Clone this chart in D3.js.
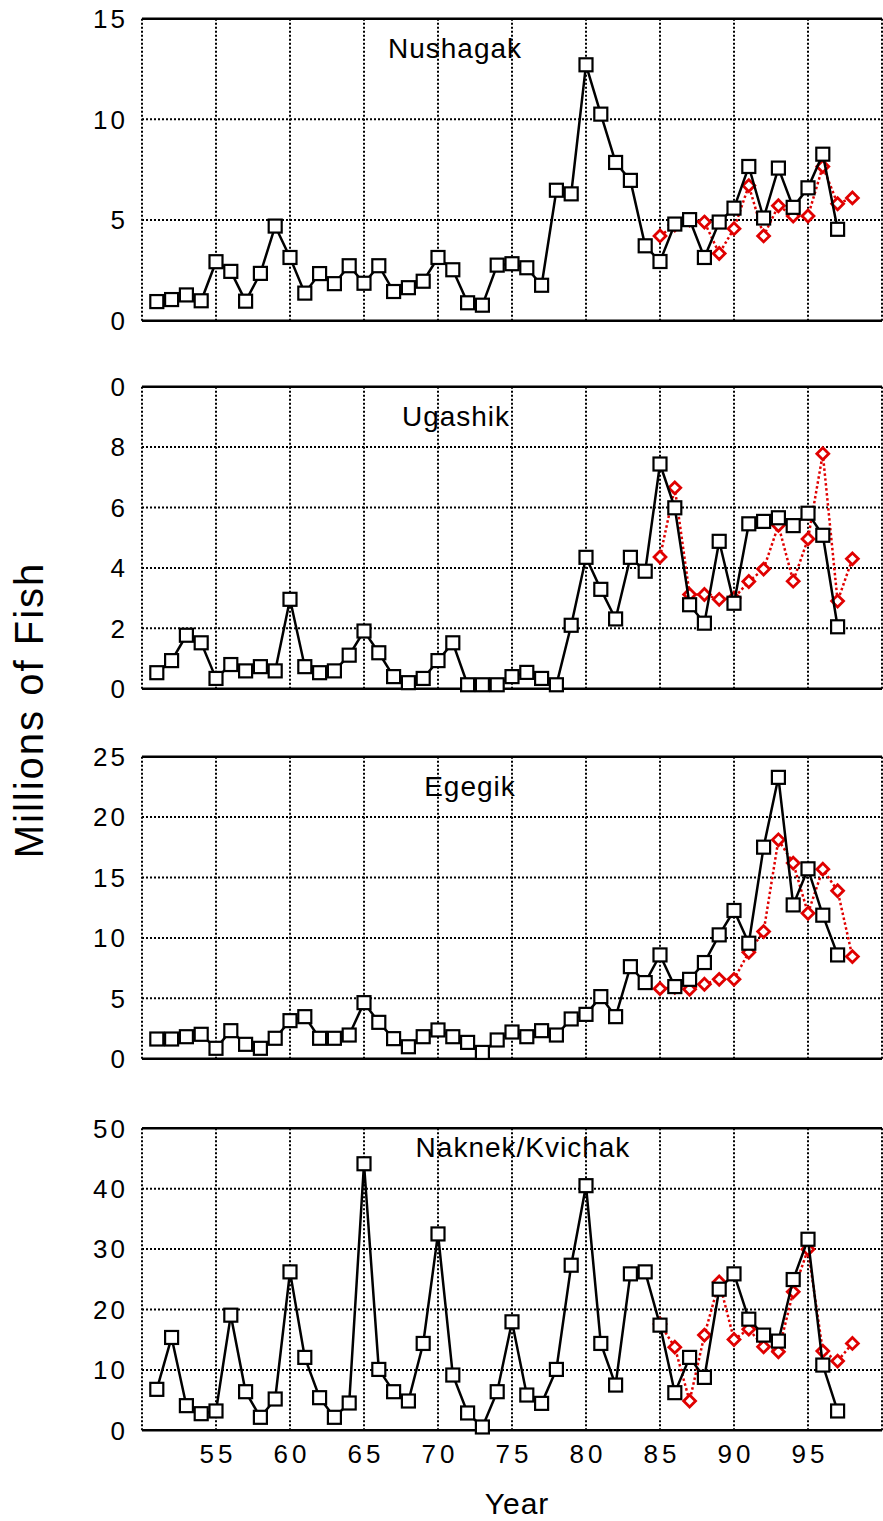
<!DOCTYPE html>
<html>
<head>
<meta charset="utf-8">
<script src="https://cdn.jsdelivr.net/npm/d3@7"></script>
<style>
body { margin: 0; background: #fff; }
text { font-family: "Liberation Sans", Arial, sans-serif; fill: #000; }
</style>
</head>
<body>
<div id="chart"></div>
<script>

// escapement (black squares) 1951-1997, forecast (red diamonds) 1985-1998
let escYears = [51,52,53,54,55,56,57,58,59,60,61,62,63,64,65,66,67,68,69,70,71,72,73,74,75,76,77,78,79,80,81,82,83,84,85,86,87,88,89,90,91,92,93,94,95,96,97];
let fcstYears = [85,86,87,88,89,90,91,92,93,94,95,96,97,98];
let xTicks = [55,60,65,70,75,80,85,90,95];

let nushagakEsc = [0.95,1.05,1.28,0.99,2.93,2.45,0.97,2.35,4.70,3.14,1.37,2.34,1.84,2.73,1.86,2.73,1.45,1.64,1.96,3.14,2.53,0.89,0.77,2.76,2.83,2.63,1.76,6.48,6.30,12.71,10.26,7.86,6.97,3.72,2.94,4.80,5.02,3.14,4.90,5.59,7.66,5.10,7.58,5.63,6.60,8.27,4.54];
let nushagakFcst = [4.21,4.75,5.0,4.90,3.34,4.57,6.71,4.21,5.71,5.2,5.20,7.66,5.81,6.10];
let nushagakTicks = [0,5,10,15];
let nushagakLabels = ["0","5","10","15"];

let ugashikEsc = [0.53,0.93,1.77,1.52,0.34,0.80,0.59,0.73,0.59,2.96,0.73,0.53,0.59,1.11,1.91,1.19,0.40,0.20,0.34,0.93,1.52,0.13,0.13,0.13,0.40,0.54,0.34,0.13,2.10,4.35,3.29,2.31,4.35,3.89,7.44,5.99,2.78,2.17,4.88,2.83,5.46,5.54,5.66,5.40,5.81,5.08,2.05];
let ugashikFcst = [4.36,6.65,3.12,3.12,2.96,3.0,3.55,3.96,5.41,3.56,4.96,7.78,2.90,4.30];
let ugashikTicks = [0,2,4,6,8,10];
let ugashikLabels = ["0","2","4","6","8","0"];

let egegikEsc = [1.63,1.63,1.82,2.02,0.86,2.32,1.19,0.86,1.69,3.15,3.48,1.69,1.69,1.96,4.64,3.01,1.66,0.99,1.82,2.38,1.82,1.35,0.52,1.55,2.21,1.82,2.32,1.96,3.29,3.67,5.14,3.48,7.62,6.30,8.59,5.97,6.57,7.96,10.25,12.27,9.56,17.51,23.29,12.73,15.72,11.88,8.59];
let egegikFcst = [5.80,5.9,5.75,6.16,6.57,6.57,8.81,10.52,18.12,16.19,12.04,15.69,13.90,8.45];
let egegikTicks = [0,5,10,15,20,25];
let egegikLabels = ["0","5","10","15","20","25"];

let naknekEsc = [6.78,15.37,4.08,2.75,3.20,19.06,6.39,2.15,5.18,26.23,12.07,5.40,2.15,4.52,44.13,10.08,6.39,4.85,14.38,32.51,9.15,2.87,0.55,6.39,17.96,5.84,4.46,10.08,27.33,40.50,14.38,7.49,25.90,26.23,17.41,6.23,12.07,8.76,23.36,25.90,18.40,15.76,14.77,24.96,31.63,10.80,3.20];
let naknekFcst = [17.6,13.77,4.85,15.76,24.57,15.04,16.75,13.83,13.00,22.92,29.97,13.11,11.46,14.38];
let naknekTicks = [0,10,20,30,40,50];
let naknekLabels = ["0","10","20","30","40","50"];

let svgWidth = 883;
let svgHeight = 1521;
let margin = { left: 142, right: 1 };
let width = 740;
let height = 302;

let panels = [
    { name: "Nushagak", top: 18.7, titleX: 455, titleDy: 39, esc: nushagakEsc, fcst: nushagakFcst, ticks: nushagakTicks, labels: nushagakLabels },
    { name: "Ugashik", top: 386.7, titleX: 456, titleDy: 39, esc: ugashikEsc, fcst: ugashikFcst, ticks: ugashikTicks, labels: ugashikLabels },
    { name: "Egegik", top: 756.7, titleX: 470, titleDy: 39.6, esc: egegikEsc, fcst: egegikFcst, ticks: egegikTicks, labels: egegikLabels },
    { name: "Naknek/Kvichak", top: 1128.3, titleX: 523, titleDy: 28.7, esc: naknekEsc, fcst: naknekFcst, ticks: naknekTicks, labels: naknekLabels }
];

let svg = d3.select("#chart")
    .append("svg")
    .attr("width", svgWidth)
    .attr("height", svgHeight);

let xScale = d3.scaleLinear()
    .domain([50, 100])
    .range([0, width]);

let diamond = d3.symbol().type(d3.symbolDiamond2).size(90);

panels.forEach(function(p) {
    let yScale = d3.scaleLinear()
        .domain([0, d3.max(p.ticks)])
        .range([height, 0]);

    let g = svg.append("g")
        .attr("transform", `translate(${margin.left}, ${p.top})`);

    // grid
    g.append("g")
        .selectAll("line")
        .data(xTicks.concat([50, 100]))
        .enter()
        .append("line")
        .attr("x1", d => xScale(d))
        .attr("x2", d => xScale(d))
        .attr("y1", 0)
        .attr("y2", height)
        .attr("stroke", "#000")
        .attr("stroke-width", 2)
        .attr("stroke-dasharray", "2,2");

    g.append("g")
        .selectAll("line")
        .data(p.ticks.slice(1, -1))
        .enter()
        .append("line")
        .attr("x1", 0)
        .attr("x2", width)
        .attr("y1", d => yScale(d))
        .attr("y2", d => yScale(d))
        .attr("stroke", "#000")
        .attr("stroke-width", 2)
        .attr("stroke-dasharray", "2,2");

    // top and bottom frame
    g.append("line")
        .attr("x1", 0).attr("x2", width)
        .attr("y1", 0).attr("y2", 0)
        .attr("stroke", "#000")
        .attr("stroke-width", 2.5);
    g.append("line")
        .attr("x1", 0).attr("x2", width)
        .attr("y1", height).attr("y2", height)
        .attr("stroke", "#000")
        .attr("stroke-width", 2.5);

    // y tick labels
    g.append("g")
        .selectAll("text")
        .data(p.ticks)
        .enter()
        .append("text")
        .attr("x", -14)
        .attr("y", d => yScale(d))
        .attr("dy", "0.36em")
        .attr("text-anchor", "end")
        .attr("font-size", "26px")
        .attr("letter-spacing", "3px")
        .text((d, i) => p.labels[i]);

    // title
    g.append("text")
        .attr("x", p.titleX - margin.left)
        .attr("y", p.titleDy)
        .attr("text-anchor", "middle")
        .attr("font-size", "28px")
        .attr("letter-spacing", "1px")
        .text(p.name);

    // forecast (red, dotted)
    let fcstData = fcstYears.map((yr, i) => ({ x: yr, y: p.fcst[i] }));
    let escData = escYears.map((yr, i) => ({ x: yr, y: p.esc[i] }));

    let line = d3.line()
        .x(d => xScale(d.x))
        .y(d => yScale(d.y));

    g.append("path")
        .datum(fcstData)
        .attr("d", line)
        .attr("fill", "none")
        .attr("stroke", "#e00000")
        .attr("stroke-width", 2.5)
        .attr("stroke-dasharray", "2.5,2.5");

    g.selectAll(".fcst")
        .data(fcstData)
        .enter()
        .append("path")
        .classed("fcst", true)
        .attr("d", diamond)
        .attr("transform", d => `translate(${xScale(d.x)}, ${yScale(d.y)})`)
        .attr("fill", "#fff")
        .attr("stroke", "#e00000")
        .attr("stroke-width", 2.8);

    g.append("path")
        .datum(escData)
        .attr("d", line)
        .attr("fill", "none")
        .attr("stroke", "#000")
        .attr("stroke-width", 2.5);

    g.selectAll(".esc")
        .data(escData)
        .enter()
        .append("rect")
        .classed("esc", true)
        .attr("x", d => xScale(d.x) - 6.5)
        .attr("y", d => yScale(d.y) - 6.5)
        .attr("width", 13)
        .attr("height", 13)
        .attr("fill", "#fff")
        .attr("stroke", "#000")
        .attr("stroke-width", 2.2);

    // x tick labels on bottom panel
    if (p.name === "Naknek/Kvichak") {
        g.append("g")
            .selectAll("text")
            .data(xTicks)
            .enter()
            .append("text")
            .attr("x", d => xScale(d) + 2)
            .attr("y", height + 33)
            .attr("text-anchor", "middle")
            .attr("font-size", "26px")
            .attr("letter-spacing", "4px")
            .text(d => d);
    }
});

svg.append("text")
    .attr("transform", "translate(43, 710) rotate(-90)")
    .attr("text-anchor", "middle")
    .attr("font-size", "40px")
    .attr("letter-spacing", "2px")
    .text("Millions of Fish");

svg.append("text")
    .attr("x", 517)
    .attr("y", 1514)
    .attr("text-anchor", "middle")
    .attr("font-size", "30px")
    .attr("letter-spacing", "1px")
    .text("Year");

</script>
</body>
</html>
